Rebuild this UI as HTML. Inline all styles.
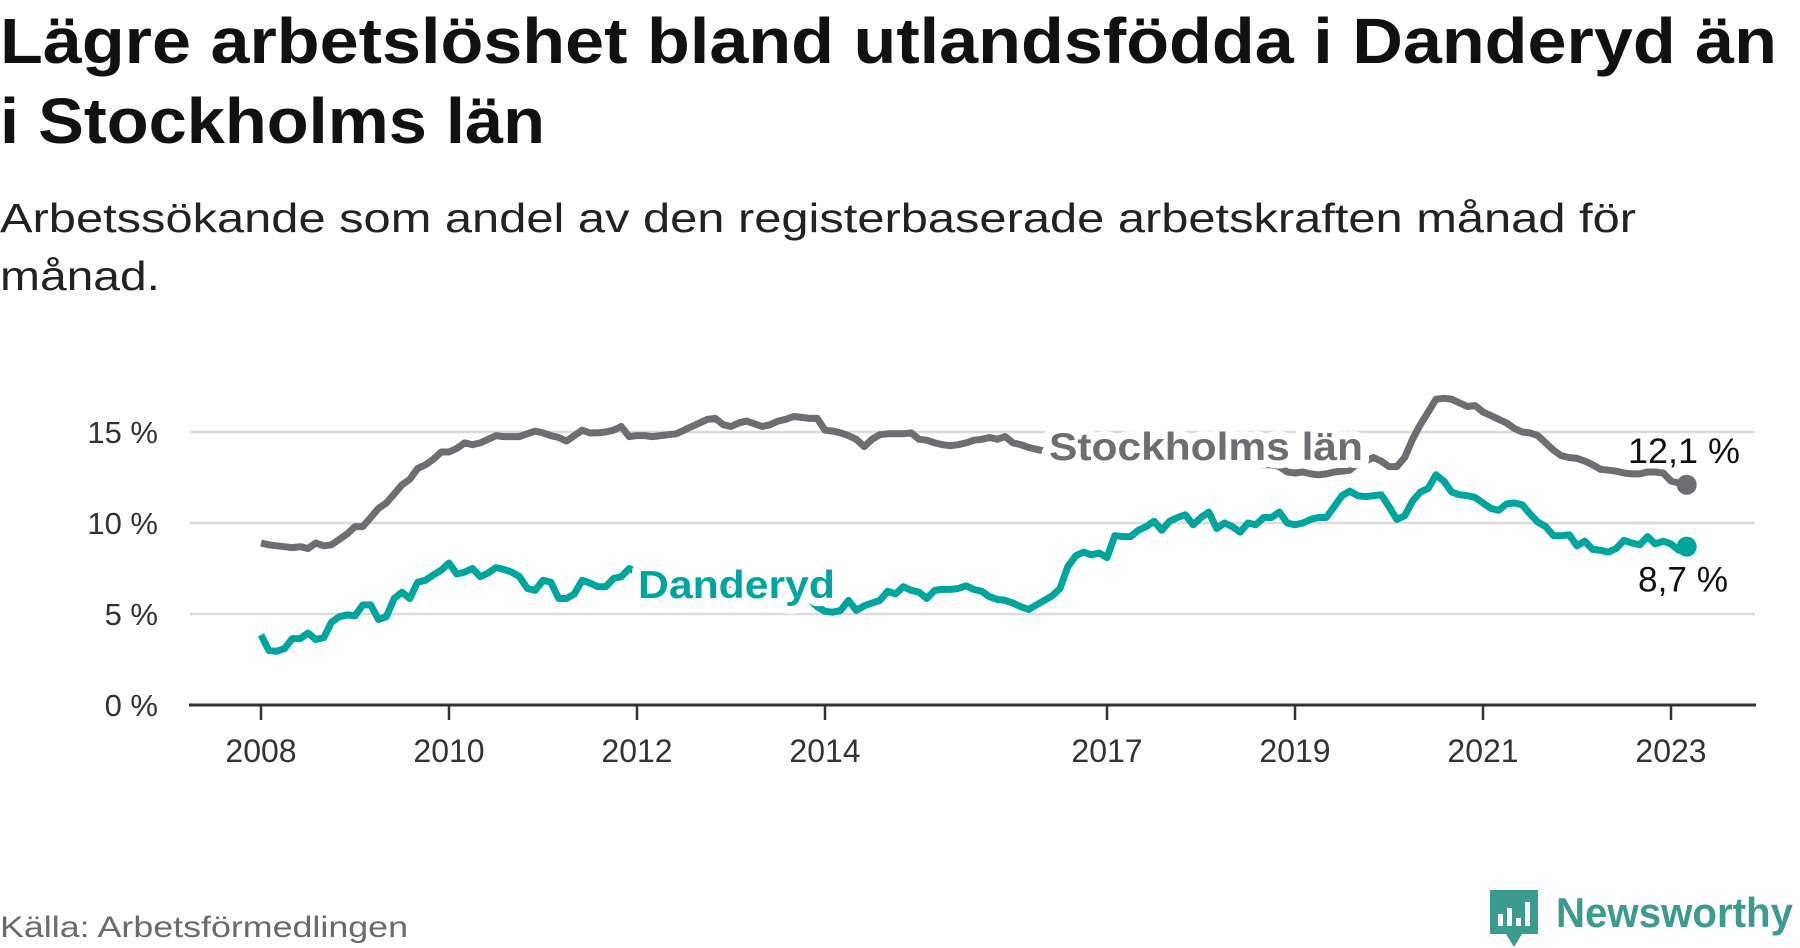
<!DOCTYPE html>
<html><head><meta charset="utf-8"><style>
html,body{margin:0;padding:0;background:#fff;}
svg{display:block;}
text{font-family:"Liberation Sans","DejaVu Sans",sans-serif;}
</style></head><body>
<svg id="chart" width="1800" height="948" viewBox="0 0 1800 948" xmlns="http://www.w3.org/2000/svg">
<text x="0" y="63" font-size="64" font-weight="bold" fill="#111" textLength="1777" lengthAdjust="spacingAndGlyphs">Lägre arbetslöshet bland utlandsfödda i Danderyd än</text>
<text x="0" y="143" font-size="64" font-weight="bold" fill="#111" textLength="545" lengthAdjust="spacingAndGlyphs">i Stockholms län</text>
<text x="0" y="232" font-size="41" fill="#222" textLength="1636" lengthAdjust="spacingAndGlyphs">Arbetssökande som andel av den registerbaserade arbetskraften månad för</text>
<text x="0" y="290" font-size="41" fill="#222" textLength="160" lengthAdjust="spacingAndGlyphs">månad.</text>
<g id="grid"></g><g id="yl"></g><g id="xa"></g><g id="series"></g><g id="labels"></g>
<text x="0" y="937" font-size="30" fill="#6b6b6b" textLength="408" lengthAdjust="spacingAndGlyphs">Källa: Arbetsförmedlingen</text>
<g>
<path d="M1490 890 h48 v44 h-16 l-8 13 l-8 -13 h-16 z" fill="#3a9b8e"/>
<rect x="1498" y="914" width="5" height="12" fill="#fff"/><rect x="1507" y="908" width="5" height="18" fill="#fff"/><rect x="1516" y="918" width="5" height="8" fill="#fff"/><rect x="1525" y="902" width="5" height="24" fill="#fff"/>
<text x="1556" y="927" font-size="42" font-weight="bold" fill="#3a9b8e" textLength="237" lengthAdjust="spacingAndGlyphs">Newsworthy</text>
</g>
</svg>
<script>
const yTicks=[0,5,10,15];
const yTickLabels=["0 %","5 %","10 %","15 %"];
const xTickYears=[2008,2010,2012,2014,2017,2019,2021,2023];
const startYear=2008;
const stockholm=[8.9,8.8,8.75,8.7,8.65,8.7,8.6,8.9,8.75,8.8,9.1,9.4,
9.8,9.8,10.3,10.8,11.1,11.6,12.1,12.4,13.0,13.2,13.5,13.9,
13.9,14.1,14.4,14.3,14.4,14.6,14.8,14.75,14.75,14.75,14.9,15.05,
14.95,14.8,14.7,14.5,14.8,15.1,14.95,14.95,15.0,15.1,15.3,14.75,
14.8,14.8,14.75,14.8,14.85,14.9,15.1,15.3,15.5,15.7,15.75,15.4,
15.3,15.5,15.6,15.45,15.3,15.4,15.6,15.7,15.85,15.8,15.75,15.75,
15.1,15.05,14.95,14.8,14.6,14.2,14.6,14.85,14.9,14.9,14.9,14.95,
14.6,14.55,14.4,14.3,14.25,14.3,14.4,14.55,14.6,14.7,14.6,14.75,
14.4,14.3,14.15,14.05,13.95,13.9,13.85,13.8,13.8,13.7,13.7,13.65,
13.6,13.6,13.55,13.5,13.5,13.5,13.45,13.45,13.4,13.4,13.4,13.4,
13.4,13.35,13.35,13.3,13.3,13.3,13.3,13.25,13.2,13.2,13.1,12.8,
12.75,12.8,12.7,12.65,12.7,12.8,12.85,12.9,13.3,13.4,13.6,13.4,
13.1,13.1,13.6,14.6,15.4,16.1,16.8,16.85,16.8,16.6,16.4,16.45,
16.1,15.9,15.7,15.5,15.2,15.0,14.95,14.8,14.4,14.0,13.7,13.6,
13.55,13.4,13.2,12.95,12.9,12.85,12.75,12.7,12.7,12.8,12.8,12.75,
12.3,12.2,12.1];
const danderyd=[3.85,3.0,2.95,3.1,3.65,3.65,3.95,3.6,3.7,4.55,4.85,4.95,
4.9,5.5,5.5,4.7,4.85,5.85,6.2,5.85,6.75,6.85,7.15,7.4,
7.8,7.2,7.3,7.5,7.05,7.25,7.55,7.45,7.3,7.05,6.4,6.3,
6.85,6.75,5.85,5.85,6.1,6.85,6.7,6.5,6.5,6.95,7.05,7.5,
7.3,7.2,7.1,7.1,7.0,7.0,6.9,6.9,6.8,6.8,6.7,6.7,
6.6,6.6,6.5,6.5,6.4,6.4,6.3,6.3,6.2,6.0,5.8,5.4,
5.15,5.1,5.2,5.75,5.2,5.45,5.6,5.75,6.25,6.1,6.5,6.3,
6.2,5.85,6.3,6.35,6.35,6.4,6.55,6.35,6.25,5.95,5.8,5.75,
5.6,5.4,5.25,5.5,5.75,6.0,6.4,7.6,8.2,8.4,8.25,8.35,
8.1,9.3,9.25,9.25,9.6,9.8,10.1,9.6,10.1,10.3,10.45,9.9,
10.3,10.6,9.7,10.0,9.8,9.5,10.0,9.9,10.3,10.3,10.6,10.0,
9.9,10.0,10.2,10.3,10.3,10.9,11.5,11.75,11.5,11.45,11.5,11.55,
10.9,10.2,10.4,11.2,11.7,11.9,12.65,12.3,11.7,11.55,11.5,11.4,
11.1,10.8,10.7,11.05,11.1,11.0,10.5,10.05,9.8,9.3,9.3,9.35,
8.75,9.0,8.55,8.5,8.4,8.6,9.05,8.9,8.8,9.25,8.85,9.0,
8.85,8.5,8.7];
const endLabels=["12,1 %","8,7 %"];

const NS="http://www.w3.org/2000/svg";
const X0=261, PX_PER_YEAR=94, Y0=705, PX_PER_UNIT=18.2;
function xMonth(m){return X0+m*PX_PER_YEAR/12;}
function xYear(y){return X0+(y-startYear)*PX_PER_YEAR;}
function yVal(v){return Y0-v*PX_PER_UNIT;}
function mk(tag,attrs,parent){const e=document.createElementNS(NS,tag);for(const k in attrs)e.setAttribute(k,attrs[k]);parent.appendChild(e);return e;}

const grid=document.getElementById('grid'), yl=document.getElementById('yl');
yTicks.forEach((t,i)=>{
  if(t>0){const l=mk('line',{x1:190,x2:1755,y1:yVal(t),y2:yVal(t),stroke:'#dcdcdc','stroke-width':2.5},grid);
  
  }
  const tx=mk('text',{x:158,y:yVal(t)+11,'font-size':31,fill:'#333','text-anchor':'end'},yl);
  tx.textContent=yTickLabels[i];
  
  
});
const xa=document.getElementById('xa');
const ax=mk('line',{x1:189,x2:1756,y1:Y0,y2:Y0,stroke:'#333','stroke-width':3},xa);


xTickYears.forEach(yr=>{
  const tk=mk('line',{x1:xYear(yr),x2:xYear(yr),y1:Y0,y2:720,stroke:'#333','stroke-width':2.5},xa);
  
  
  const tx=mk('text',{x:xYear(yr),y:762,'font-size':32,fill:'#333','text-anchor':'middle'},xa);
  tx.textContent=String(yr);
  
  
});
const series=document.getElementById('series');
function drawLine(data,color,name){
  const d=data.map((v,i)=>(i?'L':'M')+xMonth(i).toFixed(1)+' '+yVal(v).toFixed(1)).join(' ');
  const p=mk('path',{d:d,fill:'none',stroke:color,'stroke-width':7,'stroke-linejoin':'round'},series);
  
  
  const n=data.length-1;
  const c=mk('circle',{cx:xMonth(n),cy:yVal(data[n]),r:10,fill:color},series);
  
  
}
drawLine(stockholm,'#6e6d73','stockholm');
drawLine(danderyd,'#00a69b','danderyd');

const labels=document.getElementById('labels');
function lab(txt,x,y,size,color,bold,name,len,sw){
  const t=mk('text',{x:x,y:y,'font-size':size,fill:color,stroke:'#fff','stroke-width':sw,'paint-order':'stroke','stroke-linejoin':'round'},labels);
  if(bold)t.setAttribute('font-weight','bold');
  if(len){t.setAttribute('textLength',len);t.setAttribute('lengthAdjust','spacingAndGlyphs');}
  t.textContent=txt;
  
  
}
lab('Stockholms län',1049,460,39,'#6e6d73',true,'stockholm-series-label',314,16);
lab('Danderyd',638,598,39,'#00a69b',true,'danderyd-series-label',197,16);
const n=stockholm.length-1;
lab(endLabels[0],1628,yVal(stockholm[n])-22,35,'#111',false,'stockholm-end-value',112,9);
lab(endLabels[1],1638,yVal(danderyd[n])+45,35,'#111',false,'danderyd-end-value',90,9);
</script>
</body></html>
